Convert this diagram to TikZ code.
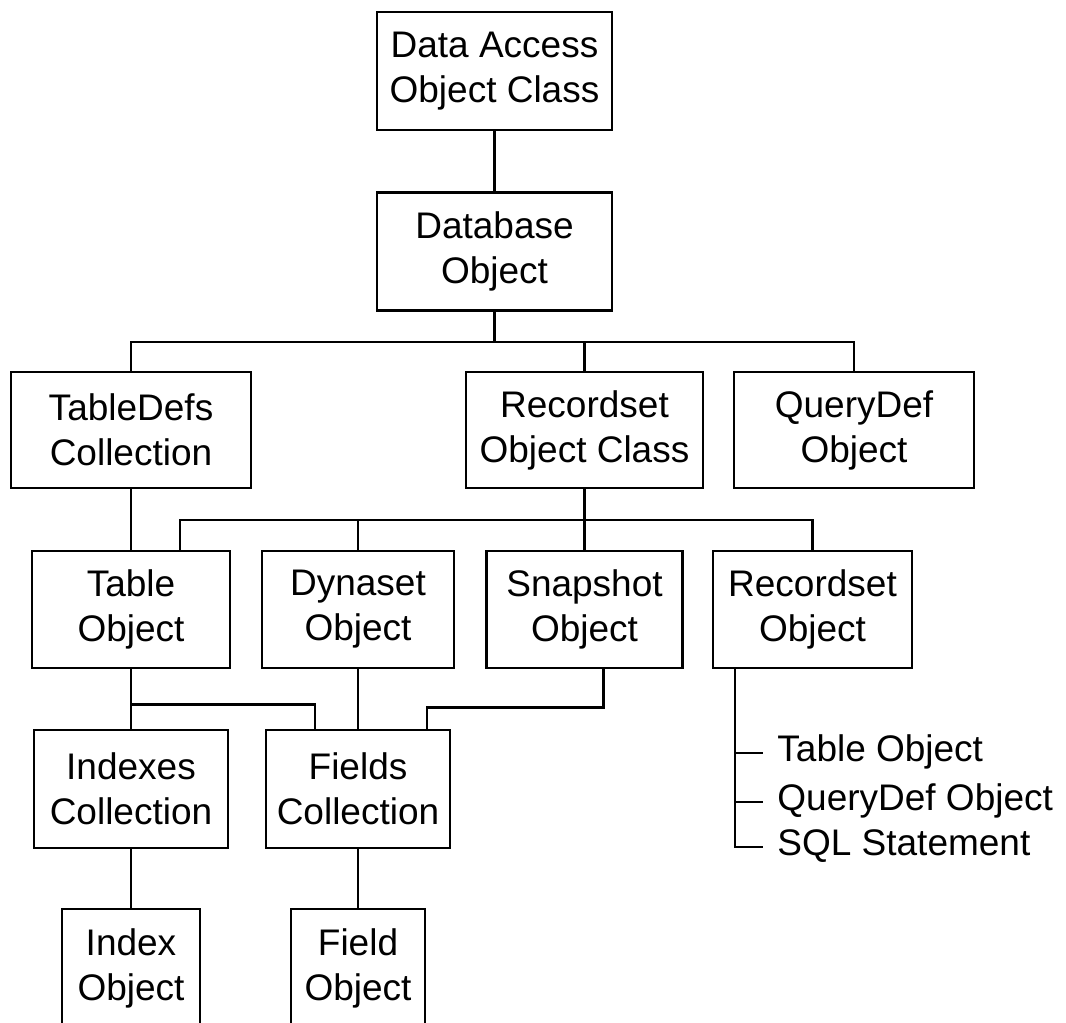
\documentclass[tikz,border=0pt]{standalone}
\usepackage{fontspec}
\setmainfont{Liberation Sans}
\usetikzlibrary{calc}

\begin{document}
\begin{tikzpicture}[x=0.5pt,y=-0.5pt,
  box/.style={draw,line width=1.4pt,align=center,inner sep=0pt,minimum height=59pt,font=\fontsize{18.5}{22.5}\selectfont},
  link/.style={line width=1.4pt},
  srcitem/.style={anchor=west,inner sep=0pt,text height=12pt,text depth=4pt,font=\fontsize{18.5}{22.5}\selectfont}]
\useasboundingbox (0,0) rectangle (1066,1023);
\clip (0,0) rectangle (1066,1023);

\node[box,minimum width=117.5pt] (dao) at (494.5,71) {Data Access\\Object Class};
\node[box,minimum width=117.5pt] (db) at (494.5,251.5) {Database\\Object};

\node[box,minimum width=120pt,minimum height=58pt] (tdefs) at (131,430) {TableDefs\\Collection};
\node[box,minimum width=118.5pt,minimum height=58pt] (rsclass) at (584.5,430) {Recordset\\Object Class};
\node[box,minimum width=120pt,minimum height=58pt] (qdef) at (854,430) {QueryDef\\Object};

\node[box,minimum width=99pt,minimum height=58.5pt] (table) at (131,609.5) {Table\\Object};
\node[box,minimum width=96pt,minimum height=58.5pt] (dyn) at (358,609.5) {Dynaset\\Object};
\node[box,minimum width=98pt,minimum height=58.5pt] (snap) at (584.5,609.5) {Snapshot\\Object};
\node[box,minimum width=99.5pt,minimum height=58.5pt] (rsobj) at (812.5,609.5) {Recordset\\Object};

\node[box,minimum width=97pt] (idxs) at (131,789) {Indexes\\Collection};
\node[box,minimum width=92pt] (flds) at (358,789) {Fields\\Collection};

\node[box,minimum width=69pt] (idx) at (131,968) {Index\\Object};
\node[box,minimum width=67pt] (fld) at (358,968) {Field\\Object};

\node[srcitem] (src1) at (777,753) {Table Object};
\node[srcitem] (src2) at (777,802) {QueryDef Object};
\node[srcitem] (src3) at (777,847) {SQL Statement};

\coordinate (bus1) at (494.5,342);
\coordinate (bus2) at (584.5,520);

\draw[link] (dao) -- (db);
\draw[link] (db) -- (bus1);
\draw[link] (tdefs.north) |- (bus1) -| (qdef.north);
\draw[link] (rsclass.north) -- (rsclass.north |- bus1);

\draw[link] (rsclass) -- (bus2);
\draw[link] ([xshift=24.5pt]table.north) |- (bus2) -| (rsobj.north);
\draw[link] (dyn.north) -- (dyn.north |- bus2);
\draw[link] (snap.north) -- (snap.north |- bus2);

\draw[link] (tdefs) -- (table);
\draw[link] (table) -- (idxs);
\draw[link] (table.south) ++(0,-17.5pt) -| ([xshift=-21.5pt]flds.north);
\draw[link] (dyn) -- (flds);
\draw[link] ([xshift=9.5pt]snap.south) -- ++(0,-19pt) -| ([xshift=34.5pt]flds.north);
\draw[link] (idxs) -- (idx);
\draw[link] (flds) -- (fld);

\coordinate (rsleg) at ([xshift=-38.75pt]rsobj.south);
\draw[link] (rsleg) |- ([xshift=-7pt]src3.west);
\foreach \s in {src1,src2}
  \draw[link] (rsleg |- \s.west) -- ([xshift=-7pt]\s.west);
\end{tikzpicture}
\end{document}
